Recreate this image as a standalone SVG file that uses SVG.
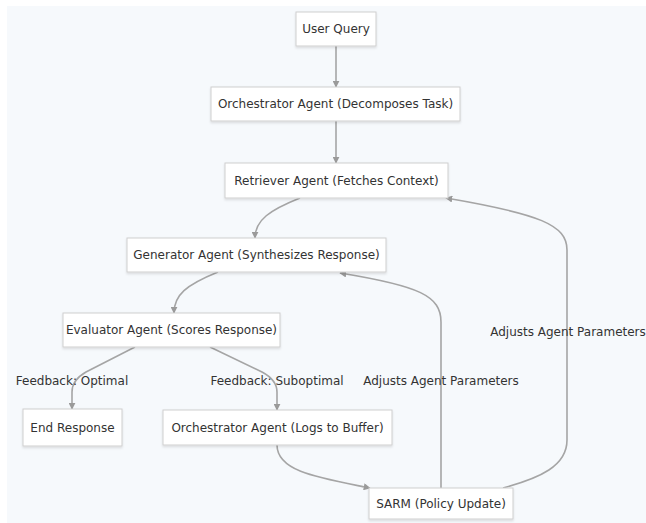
<svg xmlns="http://www.w3.org/2000/svg" width="646" height="523" viewBox="0 0 646 523">
<defs>
<marker id="arr" viewBox="0 0 10 10" refX="9" refY="5" markerWidth="7" markerHeight="7" orient="auto" markerUnits="userSpaceOnUse">
<path d="M0,0 L10,5 L0,10 z" fill="#9a9a9a"/>
</marker>
<filter id="sh" x="-5%" y="-20%" width="110%" height="150%">
<feDropShadow dx="0" dy="1.5" stdDeviation="1" flood-color="#000" flood-opacity="0.12"/>
</filter>
</defs>
<style>
.node rect{fill:#ffffff;stroke:#cfcfcf;stroke-width:1;filter:url(#sh)}
.node text,.lbl{font-family:"DejaVu Sans",Verdana,sans-serif;font-size:12px;fill:#333;text-anchor:middle;dominant-baseline:central}
.edge{fill:none;stroke:#a5a5a5;stroke-width:1.6;marker-end:url(#arr)}
</style>
<rect x="0" y="0" width="646" height="523" fill="#ffffff"/>
<rect x="7" y="6" width="639" height="517" fill="#f6f9fc"/>
<g id="connectors">
<path class="edge" d="M336,46 L336,87"/>
<path class="edge" d="M336,121 L336,163"/>
<path class="edge" d="M300,198 C270,210 255,220 255,238"/>
<path class="edge" d="M218,272 C186,285 174,295 174,313"/>
<path class="edge" d="M135,347 L86,372 Q72,380 72,392 L72,409"/>
<path class="edge" d="M210,347 L262,372 Q277,380 277,392 L277,410"/>
<path class="edge" d="M277,445 C277,472 320,478 370,488"/>
<path class="edge" d="M441,488 L441,322 C441,296 420,286 340,273"/>
<path class="edge" d="M503,488 C540,478 567,466 567,440 L567,250 C567,225 540,214 446,198"/>
<text class="lbl" x="72" y="381">Feedback: Optimal</text>
<text class="lbl" x="277" y="381">Feedback: Suboptimal</text>
<text class="lbl" x="441" y="381">Adjusts Agent Parameters</text>
<text class="lbl" x="568" y="332">Adjusts Agent Parameters</text>
</g>
<g id="user-query" class="node"><rect x="296" y="12" width="80" height="34"/><text x="336" y="29">User Query</text></g>
<g id="orchestrator-decompose" class="node"><rect x="211" y="87" width="249" height="34"/><text x="335.5" y="104">Orchestrator Agent (Decomposes Task)</text></g>
<g id="retriever" class="node"><rect x="225" y="163" width="223" height="35"/><text x="336.5" y="180.5">Retriever Agent (Fetches Context)</text></g>
<g id="generator" class="node"><rect x="127" y="238" width="259" height="34"/><text x="256.5" y="255">Generator Agent (Synthesizes Response)</text></g>
<g id="evaluator" class="node"><rect x="63" y="313" width="217" height="34"/><text x="171.5" y="330">Evaluator Agent (Scores Response)</text></g>
<g id="end-response" class="node"><rect x="23" y="409" width="99" height="37"/><text x="72.5" y="428">End Response</text></g>
<g id="orchestrator-logs" class="node"><rect x="163" y="410" width="229" height="35"/><text x="277.5" y="427.5">Orchestrator Agent (Logs to Buffer)</text></g>
<g id="sarm" class="node"><rect x="369" y="488" width="144" height="31"/><text x="441" y="503.5">SARM (Policy Update)</text></g>
</svg>
